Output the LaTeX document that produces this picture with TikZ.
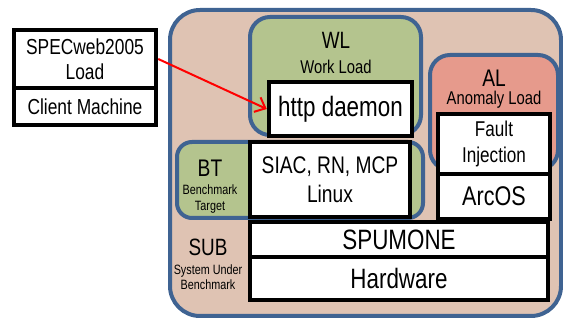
\documentclass[tikz,border=0pt]{standalone}
\usepackage{fontspec}
\setmainfont{Liberation Sans}[FakeStretch=0.8]
\usetikzlibrary{arrows.meta}
\definecolor{subfill}{HTML}{DFC3B3}
\definecolor{blueline}{HTML}{3F6392}
\definecolor{greenfill}{HTML}{B4C48E}
\definecolor{redfill}{HTML}{E69A8C}
\newcommand{\fs}[1]{\fontsize{#1}{#1}\selectfont}
\begin{document}
\begin{tikzpicture}[x=1pt,y=-1pt,
  region/.style={draw=blueline, line width=4pt, rounded corners=#1},
  wbox/.style={draw=black, fill=white, line width=4.5pt, inner sep=0pt, align=center},
  lbl/.style={inner sep=0pt, align=center},
  link/.style={draw=red, line width=2pt, -{Straight Barb[length=9pt,width=16pt,line width=2pt]}}
]
\useasboundingbox (0,0) rectangle (563,320);
% SUB region
\node[region=30, fill=subfill, minimum width=391pt, minimum height=306pt] (sub) at (365.5,163) {};
\node[lbl, font=\fs{23.6}] (subl) at (208,247) {SUB};
\node[lbl, font=\fs{13.5}] (subd) at (208,277) {System Under\\[2pt]Benchmark};
% WL region
\node[region=20, fill=greenfill, minimum width=171pt, minimum height=118pt] (wl) at (335.5,76) {};
\node[lbl, font=\fs{23.6}] (wll) at (336,40) {WL};
\node[lbl, font=\fs{18.5}] (wld) at (336,67) {Work Load};
% AL region
\node[region=20, fill=redfill, minimum width=128pt, minimum height=115pt] (al) at (494,112.5) {};
\node[lbl, font=\fs{24}] (all) at (494,78) {AL};
\node[lbl, font=\fs{18.5}] (ald) at (494,100) {Anomaly Load};
% BT region
\node[region=15, fill=greenfill, minimum width=246pt, minimum height=76pt] (bt) at (300,180) {};
\node[lbl, font=\fs{24}] (btl) at (210,168) {BT};
\node[lbl, font=\fs{13.5}] (btd) at (210,199) {Benchmark\\[2pt]Target};
% white boxes
\node[wbox, minimum width=142pt, minimum height=58pt, font=\fs{21.7}] (spec) at (85,59) {SPECweb2005\\[3pt]Load};
\node[wbox, minimum width=142pt, minimum height=37pt, font=\fs{21.7}] (client) at (85,106.5) {Client Machine};
\node[wbox, minimum width=143pt, minimum height=54pt, font=\fs{28}] (http) at (340.5,109) {http daemon};
\node[wbox, minimum width=112pt, minimum height=60pt, font=\fs{21.4}] (fault) at (494,144) {Fault\\[4pt]Injection};
\node[wbox, minimum width=112pt, minimum height=45pt, font=\fs{27}] (arcos) at (494,196.5) {ArcOS};
\node[wbox, minimum width=160pt, minimum height=75pt, font=\fs{24}] (siac) at (330,179.5) {SIAC, RN, MCP\\[5pt]Linux};
\node[wbox, minimum width=298pt, minimum height=35pt, font=\fs{28}] (spu) at (399,239.5) {SPUMONE};
\node[wbox, minimum width=298pt, minimum height=43pt, font=\fs{28}] (hw) at (399,278.5) {Hardware};
% arrow
\draw[link] (spec.east) -- (http.west);
\end{tikzpicture}
\end{document}
